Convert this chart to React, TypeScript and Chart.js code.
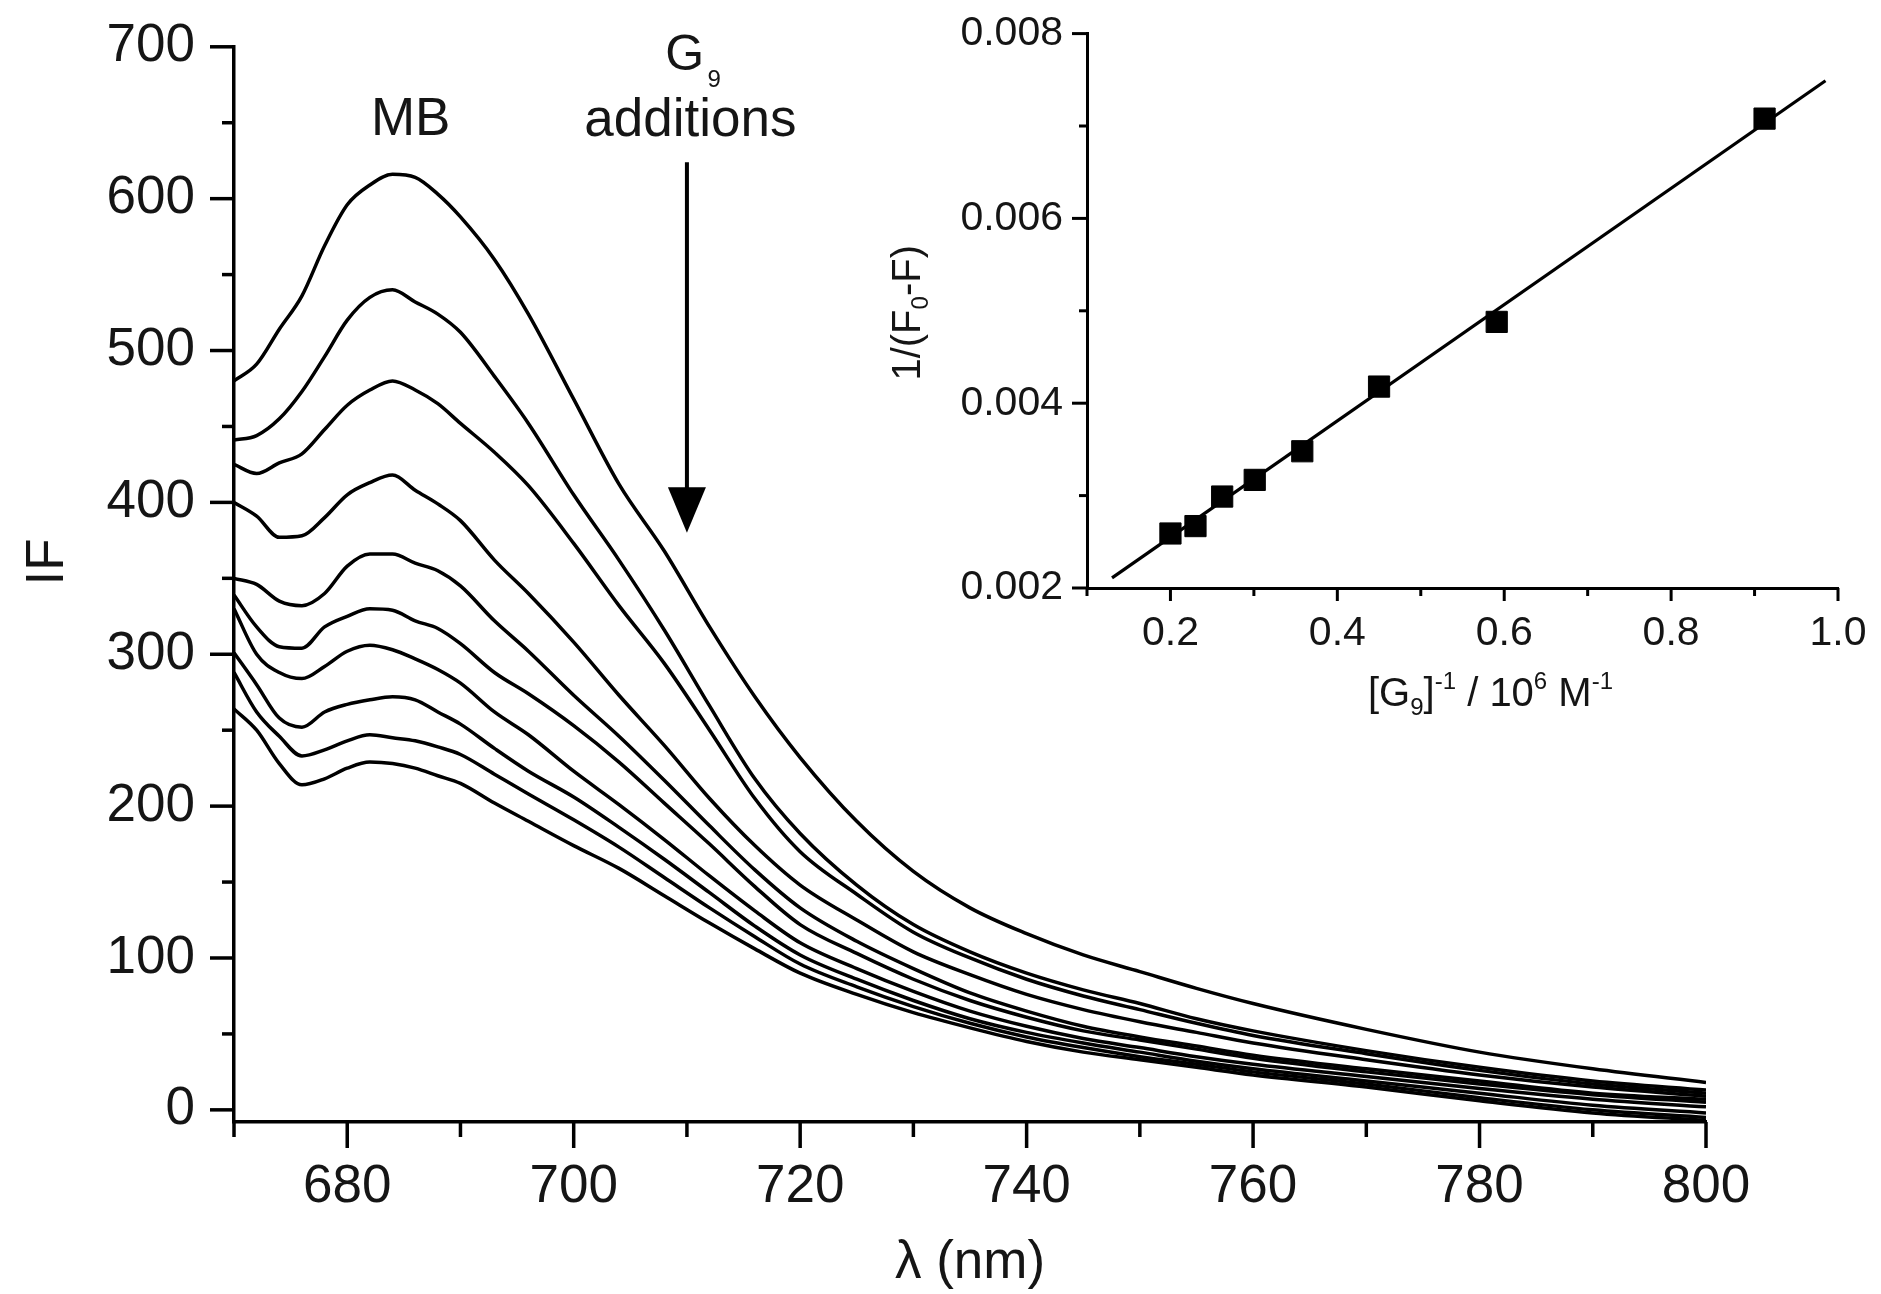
import React, { useEffect, useRef } from 'react';
import { Chart, registerables } from 'chart.js';

Chart.register(...registerables);

const FONT = '"Liberation Sans", Arial, Helvetica, sans-serif';
const INK = '#000000';
const TEXT = '#151515';

// ---------- main spectra ----------
const WAVELENGTHS = [670, 672, 674, 676, 678, 680, 682, 684, 686, 688, 690, 693, 696, 700, 704, 708, 712, 716, 720, 725, 730, 735, 740, 745, 750, 755, 760, 770, 780, 790, 800];

const SPECTRUM_1 = [480, 491, 514, 536, 569, 596, 609, 616, 614, 603, 588, 560, 524, 468, 412, 368, 318, 272, 232, 190, 157, 133, 116, 102, 91, 80, 70, 53, 38, 27, 18];
const SPECTRUM_2 = [441, 444, 455, 473, 496, 520, 535, 540, 532, 524, 512, 483, 452, 405, 362, 316, 266, 218, 182, 148, 122, 104, 90, 79, 70, 60, 52, 39, 28, 19, 13];
const SPECTRUM_3 = [425, 419, 426, 432, 448, 464, 474, 480, 474, 465, 452, 433, 411, 373, 332, 294, 250, 205, 170, 142, 117, 100, 86, 75, 66, 57, 49, 37, 26, 17, 11];
const SPECTRUM_4 = [400, 391, 377, 378, 390, 405, 413, 418, 408, 399, 388, 362, 340, 308, 273, 240, 205, 174, 148, 125, 104, 89, 76, 66, 58, 51, 44, 33, 23, 15, 9];
const SPECTRUM_5 = [350, 346, 335, 332, 340, 358, 366, 366, 360, 355, 345, 322, 302, 273, 246, 217, 187, 158, 133, 111, 93, 77, 65, 55, 48, 42, 36, 27, 19, 11, 7];
const SPECTRUM_6 = [339, 318, 305, 304, 318, 325, 330, 329, 322, 317, 307, 288, 274, 253, 229, 202, 175, 147, 122, 103, 86, 72, 61, 52, 46, 40, 34, 25, 17, 10, 5];
const SPECTRUM_7 = [330, 300, 288, 284, 292, 302, 306, 303, 297, 290, 281, 262, 247, 223, 201, 178, 154, 131, 110, 93, 78, 65, 55, 47, 41, 35, 30, 22, 14, 7, 2];
const SPECTRUM_8 = [301, 280, 258, 252, 262, 267, 270, 272, 270, 262, 254, 238, 223, 206, 186, 165, 143, 121, 102, 86, 72, 60, 51, 44, 38, 32, 27, 19, 11, 3, -2];
const SPECTRUM_9 = [288, 262, 246, 233, 237, 243, 247, 245, 243, 239, 234, 221, 208, 191, 173, 153, 133, 114, 96, 81, 68, 57, 48, 41, 35, 30, 25, 17, 8, 0, -5];
const SPECTRUM_10 = [264, 250, 228, 214, 218, 225, 229, 228, 225, 220, 215, 202, 190, 174, 159, 141, 123, 106, 90, 76, 64, 54, 45, 38, 33, 28, 23, 15, 6, -2, -7];

const SPECTRA = [SPECTRUM_1, SPECTRUM_2, SPECTRUM_3, SPECTRUM_4, SPECTRUM_5, SPECTRUM_6, SPECTRUM_7, SPECTRUM_8, SPECTRUM_9, SPECTRUM_10];

const MAIN_X_MAJOR = [680, 700, 720, 740, 760, 780, 800];
const MAIN_X_MINOR = [670, 690, 710, 730, 750, 770, 790];
const MAIN_Y_MAJOR = [0, 100, 200, 300, 400, 500, 600, 700];
const MAIN_Y_MINOR = [50, 150, 250, 350, 450, 550, 650];

// annotation anchors in data units [wavelength, IF]
const MB_LABEL = [685.6, 642];
const G_LABEL = [709.8, 685];
const G_SUB = [712.4, 673.5];
const ADDITIONS_LABEL = [710.3, 641.5];
const ARROW_X = 710;
const ARROW_TOP = 624;
const ARROW_HEAD_BASE = 410;
const ARROW_TIP = 380;

// ---------- inset (double reciprocal plot) ----------
const INSET_X = [0.2, 0.23, 0.262, 0.301, 0.358, 0.45, 0.591, 0.912];
const INSET_Y = [0.00259, 0.00267, 0.00299, 0.00317, 0.00348, 0.00418, 0.00488, 0.00708];
const FIT_X = [0.13, 0.985];
const FIT_Y = [0.00211, 0.00749];

const INSET_X_MAJOR = [0.2, 0.4, 0.6, 0.8, 1.0];
const INSET_X_MINOR = [0.1, 0.3, 0.5, 0.7, 0.9];
const INSET_Y_MAJOR = [0.002, 0.004, 0.006, 0.008];
const INSET_Y_MINOR = [0.003, 0.005, 0.007];

type Seg = { text: string; size: number; dy: number };

function drawRich(ctx: CanvasRenderingContext2D, segs: Seg[], x: number, y: number) {
  let total = 0;
  const widths = segs.map((s) => {
    ctx.font = `${s.size}px ${FONT}`;
    const w = ctx.measureText(s.text).width;
    total += w;
    return w;
  });
  let cx = x - total / 2;
  ctx.textAlign = 'left';
  ctx.textBaseline = 'alphabetic';
  segs.forEach((s, i) => {
    ctx.font = `${s.size}px ${FONT}`;
    ctx.fillText(s.text, cx, y + s.dy);
    cx += widths[i];
  });
}

type TickSpec = { id: string; major: number[]; minor: number[]; majorLen: number; minorLen: number; width: number };

function tickPlugin(specs: TickSpec[]) {
  return {
    id: 'customTicks',
    afterDraw(chart: any) {
      const ctx = chart.ctx as CanvasRenderingContext2D;
      ctx.save();
      ctx.strokeStyle = INK;
      ctx.lineCap = 'butt';
      for (const s of specs) {
        const scale = chart.scales[s.id];
        ctx.lineWidth = s.width;
        const draw = (v: number, len: number) => {
          const p = scale.getPixelForValue(v);
          ctx.beginPath();
          if (scale.isHorizontal()) {
            ctx.moveTo(p, scale.top);
            ctx.lineTo(p, scale.top + len);
          } else {
            ctx.moveTo(scale.right, p);
            ctx.lineTo(scale.right - len, p);
          }
          ctx.stroke();
        };
        s.major.forEach((v) => draw(v, s.majorLen));
        s.minor.forEach((v) => draw(v, s.minorLen));
      }
      ctx.restore();
    },
  };
}

const mainAnnotations = {
  id: 'mainAnnotations',
  afterDraw(chart: any) {
    const ctx = chart.ctx as CanvasRenderingContext2D;
    const { x, y } = chart.scales;
    const area = chart.chartArea;
    ctx.save();
    ctx.fillStyle = TEXT;
    ctx.textAlign = 'center';
    ctx.textBaseline = 'alphabetic';
    ctx.font = `53px ${FONT}`;
    ctx.fillText('MB', x.getPixelForValue(MB_LABEL[0]), y.getPixelForValue(MB_LABEL[1]));
    ctx.fillText('additions', x.getPixelForValue(ADDITIONS_LABEL[0]), y.getPixelForValue(ADDITIONS_LABEL[1]));
    ctx.font = `50px ${FONT}`;
    ctx.fillText('G', x.getPixelForValue(G_LABEL[0]), y.getPixelForValue(G_LABEL[1]));
    ctx.font = `24px ${FONT}`;
    ctx.fillText('9', x.getPixelForValue(G_SUB[0]), y.getPixelForValue(G_SUB[1]));

    // arrow
    const ax = x.getPixelForValue(ARROW_X);
    ctx.strokeStyle = INK;
    ctx.lineWidth = 4;
    ctx.beginPath();
    ctx.moveTo(ax, y.getPixelForValue(ARROW_TOP));
    ctx.lineTo(ax, y.getPixelForValue(ARROW_HEAD_BASE) + 2);
    ctx.stroke();
    ctx.fillStyle = INK;
    ctx.beginPath();
    ctx.moveTo(ax - 19, y.getPixelForValue(ARROW_HEAD_BASE));
    ctx.lineTo(ax + 19, y.getPixelForValue(ARROW_HEAD_BASE));
    ctx.lineTo(ax, y.getPixelForValue(ARROW_TIP));
    ctx.closePath();
    ctx.fill();

    // axis titles
    ctx.fillStyle = TEXT;
    ctx.font = `53px ${FONT}`;
    ctx.textAlign = 'center';
    ctx.fillText('\u03BB (nm)', (area.left + area.right) / 2, 1278);
    ctx.save();
    ctx.translate(area.left - 186, 562);
    ctx.rotate(-Math.PI / 2);
    ctx.textBaseline = 'middle';
    ctx.fillText('IF', 0, 0);
    ctx.restore();
    ctx.restore();
  },
};

const insetAnnotations = {
  id: 'insetAnnotations',
  afterDraw(chart: any) {
    const ctx = chart.ctx as CanvasRenderingContext2D;
    const area = chart.chartArea;
    ctx.save();
    ctx.fillStyle = TEXT;
    // y title
    ctx.save();
    ctx.translate(area.left - 167, (area.top + area.bottom) / 2 + 2);
    ctx.rotate(-Math.PI / 2);
    drawRich(ctx, [
      { text: '1/(F', size: 40, dy: 0 },
      { text: '0', size: 24, dy: 8 },
      { text: '-F)', size: 40, dy: 0 },
    ], 0, 0);
    ctx.restore();
    // x title
    drawRich(ctx, [
      { text: '[G', size: 40, dy: 0 },
      { text: '9', size: 24, dy: 9 },
      { text: ']', size: 40, dy: 0 },
      { text: '-1', size: 24, dy: -17 },
      { text: ' / 10', size: 40, dy: 0 },
      { text: '6', size: 24, dy: -17 },
      { text: ' M', size: 40, dy: 0 },
      { text: '-1', size: 24, dy: -17 },
    ], (area.left + area.right) / 2 + 28, 706);
    ctx.restore();
  },
};

export default function App() {
  const mainRef = useRef<HTMLCanvasElement | null>(null);
  const insetRef = useRef<HTMLCanvasElement | null>(null);

  useEffect(() => {
    Chart.defaults.font.family = FONT;
    Chart.defaults.color = TEXT;

    const mainChart = new Chart(mainRef.current as HTMLCanvasElement, {
      type: 'line',
      data: {
        datasets: SPECTRA.map((s, i) => ({
          label: `Spectrum ${i + 1}`,
          data: WAVELENGTHS.map((w, j) => ({ x: w, y: s[j] })),
          borderColor: INK,
          borderWidth: 3.5,
          borderJoinStyle: 'round',
          pointRadius: 0,
          cubicInterpolationMode: 'monotone',
          fill: false,
        })),
      },
      options: {
        responsive: false,
        animation: false,
        devicePixelRatio: 1,
        layout: { padding: { left: 0, right: 175, top: 42, bottom: 0 } },
        plugins: { legend: { display: false }, tooltip: { enabled: false } },
        scales: {
          x: {
            type: 'linear',
            min: 670,
            max: 800,
            grid: { display: false, drawTicks: true, tickLength: 26 },
            border: { display: true, color: INK, width: 3.5 },
            ticks: {
              autoSkip: false,
              maxRotation: 0,
              padding: 8,
              color: TEXT,
              font: { size: 53, family: FONT },
              callback: (v: any) => String(v),
            },
            afterBuildTicks: (scale: any) => {
              scale.ticks = MAIN_X_MAJOR.map((v) => ({ value: v }));
            },
            afterFit: (scale: any) => {
              scale.height = 172;
            },
          },
          y: {
            type: 'linear',
            min: -8,
            max: 700,
            grid: { display: false, drawTicks: true, tickLength: 24 },
            border: { display: true, color: INK, width: 3.5 },
            ticks: {
              autoSkip: false,
              padding: 15,
              color: TEXT,
              font: { size: 53, family: FONT },
              callback: (v: any) => String(v),
            },
            afterBuildTicks: (scale: any) => {
              scale.ticks = MAIN_Y_MAJOR.map((v) => ({ value: v }));
            },
            afterFit: (scale: any) => {
              scale.width = 234;
            },
          },
        },
      } as any,
      plugins: [
        tickPlugin([
          { id: 'x', major: MAIN_X_MAJOR, minor: MAIN_X_MINOR, majorLen: 26, minorLen: 15, width: 3.5 },
          { id: 'y', major: MAIN_Y_MAJOR, minor: MAIN_Y_MINOR, majorLen: 24, minorLen: 12, width: 3.5 },
        ]),
        mainAnnotations,
      ],
    } as any);

    const insetChart = new Chart(insetRef.current as HTMLCanvasElement, {
      type: 'scatter',
      data: {
        datasets: [
          {
            label: 'data',
            data: INSET_X.map((x, i) => ({ x, y: INSET_Y[i] })),
            pointStyle: 'rect',
            pointRadius: 15,
            backgroundColor: INK,
            borderColor: INK,
            borderWidth: 1,
            showLine: false,
            order: 0,
          },
          {
            label: 'fit',
            data: FIT_X.map((x, i) => ({ x, y: FIT_Y[i] })),
            showLine: true,
            pointRadius: 0,
            borderColor: INK,
            borderWidth: 3.2,
            order: 1,
          },
        ],
      },
      options: {
        responsive: false,
        animation: false,
        devicePixelRatio: 1,
        layout: { padding: { left: 0, right: 43, top: 32, bottom: 0 } },
        plugins: { legend: { display: false }, tooltip: { enabled: false } },
        scales: {
          x: {
            type: 'linear',
            min: 0.1,
            max: 1.0,
            grid: { display: false, drawTicks: true, tickLength: 13 },
            border: { display: true, color: INK, width: 3 },
            ticks: {
              autoSkip: false,
              maxRotation: 0,
              padding: 8,
              color: TEXT,
              font: { size: 41, family: FONT },
              callback: (v: any) => Number(v).toFixed(1),
            },
            afterBuildTicks: (scale: any) => {
              scale.ticks = INSET_X_MAJOR.map((v) => ({ value: v }));
            },
            afterFit: (scale: any) => {
              scale.height = 132;
            },
          },
          y: {
            type: 'linear',
            min: 0.002,
            max: 0.008,
            grid: { display: false, drawTicks: true, tickLength: 15 },
            border: { display: true, color: INK, width: 3 },
            ticks: {
              autoSkip: false,
              padding: 9,
              color: TEXT,
              font: { size: 41, family: FONT },
              callback: (v: any) => Number(v).toFixed(3),
            },
            afterBuildTicks: (scale: any) => {
              scale.ticks = INSET_Y_MAJOR.map((v) => ({ value: v }));
            },
            afterFit: (scale: any) => {
              scale.width = 227;
            },
          },
        },
      } as any,
      plugins: [
        tickPlugin([
          { id: 'x', major: INSET_X_MAJOR, minor: INSET_X_MINOR, majorLen: 13, minorLen: 8, width: 3 },
          { id: 'y', major: INSET_Y_MAJOR, minor: INSET_Y_MINOR, majorLen: 15, minorLen: 8, width: 3 },
        ]),
        insetAnnotations,
      ],
    } as any);

    return () => {
      mainChart.destroy();
      insetChart.destroy();
    };
  }, []);

  return (
    <div style={{ position: 'absolute', left: 0, top: 0, width: 1881, height: 1294, background: '#ffffff', overflow: 'hidden' }}>
      <canvas ref={mainRef} width={1881} height={1294} style={{ position: 'absolute', left: 0, top: 0, width: 1881, height: 1294 }} />
      <canvas ref={insetRef} width={1021} height={720} style={{ position: 'absolute', left: 860, top: 0, width: 1021, height: 720 }} />
    </div>
  );
}
